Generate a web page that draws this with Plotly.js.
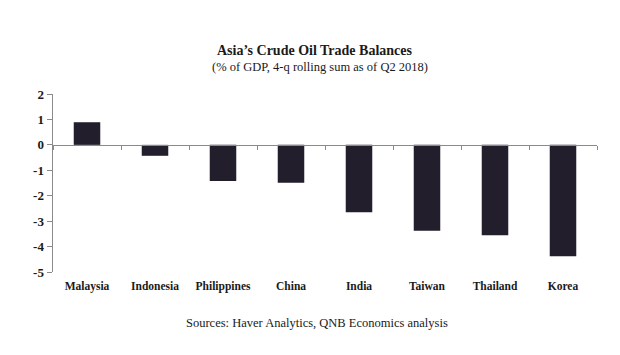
<!DOCTYPE html>
<html>
<head>
<meta charset="utf-8">
<script src="https://cdn.plot.ly/plotly-3.0.1.min.js"></script>
<style>html,body{margin:0;padding:0;background:#fff;}#chart{width:620px;height:355px;}</style>
</head>
<body>
<div id="chart"></div>
<script>
const countries = ["Malaysia","Indonesia","Philippines","China","India","Taiwan","Thailand","Korea"];
const balances = [0.89,-0.43,-1.42,-1.49,-2.65,-3.38,-3.55,-4.38];
const yTicks = [-5,-4,-3,-2,-1,0,1,2];

const serif = "Liberation Serif, Times New Roman, serif";
const barColor = "#221e2b";
const axisColor = "#8a8a8a";

const traces = [
  {type:"bar", x:countries, y:balances, width:0.39,
   marker:{color:barColor}, hoverinfo:"x+y"},
  {type:"bar", x:countries, y:balances, xaxis:"x2", width:0.39,
   marker:{color:"rgba(0,0,0,0)"}, hoverinfo:"skip", showlegend:false}
];

const layout = {
  width:620, height:355,
  margin:{l:53, r:23, t:94, b:83},
  paper_bgcolor:"#fff", plot_bgcolor:"#fff",
  showlegend:false, bargap:0.6,
  font:{family:serif, color:"#1a1a1a"},
  xaxis:{type:"category", categoryarray:countries, range:[-0.5,7.5],
         showline:false, ticks:"", zeroline:false, showgrid:false,
         tickfont:{family:serif, size:11.5, color:"#1a1a1a", weight:"bold"},
         ticklabelstandoff:5},
  xaxis2:{type:"category", categoryarray:countries, range:[-0.5,7.5],
          overlaying:"x", anchor:"free", position:5/7, side:"bottom",
          showline:true, linecolor:axisColor, linewidth:1.5,
          ticks:"outside", tickson:"boundaries", ticklen:4, tickcolor:axisColor,
          showticklabels:false, showgrid:false, zeroline:false},
  yaxis:{range:[-5,2], tickvals:yTicks, ticktext:yTicks.map(String),
         showline:true, linecolor:axisColor, linewidth:1.5,
         ticks:"outside", ticklen:5, tickcolor:axisColor,
         showgrid:false, zeroline:false,
         tickfont:{family:serif, size:13, color:"#1a1a1a", weight:"bold"}},
  annotations:[
    {text:"<b>Asia’s Crude Oil Trade Balances</b>", xref:"paper", yref:"paper",
     x:(315-53)/544, y:(355-83-51)/178, xanchor:"center", yanchor:"middle",
     showarrow:false, font:{family:serif, size:14, color:"#1a1a1a"}},
    {text:"(% of GDP, 4-q rolling sum as of Q2 2018)", xref:"paper", yref:"paper",
     x:(320-53)/544, y:(355-83-67)/178, xanchor:"center", yanchor:"middle",
     showarrow:false, font:{family:serif, size:12.5, color:"#1a1a1a"}},
    {text:"Sources: Haver Analytics, QNB Economics analysis", xref:"paper", yref:"paper",
     x:(317-53)/544, y:(355-83-323)/178, xanchor:"center", yanchor:"middle",
     showarrow:false, font:{family:serif, size:12.5, color:"#1a1a1a"}}
  ]
};

Plotly.newPlot("chart", traces, layout, {displayModeBar:false, staticPlot:true});
</script>
</body>
</html>
